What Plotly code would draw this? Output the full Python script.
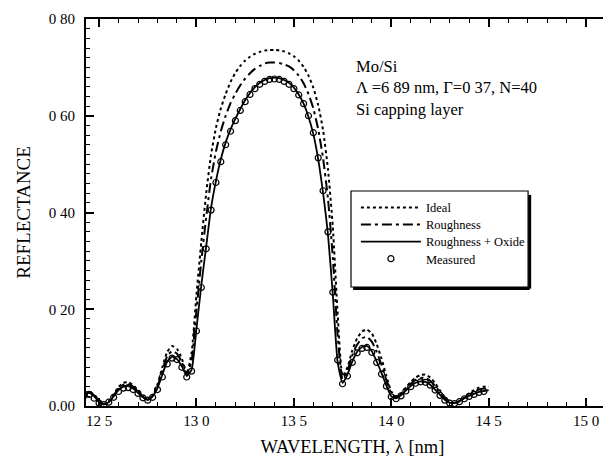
import plotly.graph_objects as go

wavelength_nm = [
    12.400, 12.425, 12.450, 12.475, 12.500, 12.525, 12.550, 12.575, 12.600, 12.625,
    12.650, 12.675, 12.700, 12.725, 12.750, 12.775, 12.800, 12.825, 12.850, 12.875,
    12.900, 12.925, 12.950, 12.975, 13.000, 13.025, 13.050, 13.075, 13.100, 13.125,
    13.150, 13.175, 13.200, 13.225, 13.250, 13.275, 13.300, 13.325, 13.350, 13.375,
    13.400, 13.425, 13.450, 13.475, 13.500, 13.525, 13.550, 13.575, 13.600, 13.625,
    13.650, 13.675, 13.700, 13.725, 13.750, 13.775, 13.800, 13.825, 13.850, 13.875,
    13.900, 13.925, 13.950, 13.975, 14.000, 14.025, 14.050, 14.075, 14.100, 14.125,
    14.150, 14.175, 14.200, 14.225, 14.250, 14.275, 14.300, 14.325, 14.350, 14.375,
    14.400, 14.425, 14.450, 14.475, 14.500,
]

ideal = [
    0.020, 0.026, 0.030, 0.023, 0.010, 0.004, 0.010, 0.024, 0.039, 0.048,
    0.049, 0.043, 0.032, 0.020, 0.014, 0.022, 0.045, 0.080, 0.112, 0.124,
    0.118, 0.098, 0.066, 0.110, 0.230, 0.340, 0.440, 0.520, 0.575, 0.615,
    0.645, 0.670, 0.689, 0.703, 0.714, 0.722, 0.728, 0.732, 0.735, 0.736,
    0.736, 0.735, 0.733, 0.729, 0.723, 0.714, 0.701, 0.683, 0.658, 0.622,
    0.570, 0.490, 0.370, 0.190, 0.062, 0.080, 0.115, 0.140, 0.154, 0.158,
    0.150, 0.128, 0.098, 0.062, 0.030, 0.020, 0.026, 0.038, 0.050, 0.059,
    0.064, 0.065, 0.059, 0.047, 0.032, 0.018, 0.009, 0.006, 0.010, 0.018,
    0.026, 0.033, 0.038, 0.040, 0.040,
]

roughness = [
    0.020, 0.025, 0.029, 0.022, 0.009, 0.004, 0.009, 0.022, 0.036, 0.044,
    0.045, 0.040, 0.030, 0.019, 0.013, 0.021, 0.041, 0.073, 0.103, 0.114,
    0.108, 0.091, 0.064, 0.094, 0.198, 0.300, 0.390, 0.470, 0.526, 0.568,
    0.600, 0.626, 0.646, 0.663, 0.677, 0.688, 0.697, 0.703, 0.708, 0.710,
    0.710, 0.709, 0.706, 0.702, 0.694, 0.683, 0.667, 0.645, 0.615, 0.572,
    0.512, 0.429, 0.307, 0.145, 0.056, 0.073, 0.105, 0.127, 0.140, 0.143,
    0.133, 0.112, 0.085, 0.053, 0.026, 0.018, 0.024, 0.035, 0.046, 0.054,
    0.058, 0.058, 0.052, 0.041, 0.028, 0.016, 0.008, 0.006, 0.010, 0.017,
    0.024, 0.029, 0.034, 0.036, 0.036,
]

roughness_oxide = [
    0.020, 0.024, 0.027, 0.020, 0.008, 0.003, 0.008, 0.020, 0.033, 0.040,
    0.041, 0.036, 0.027, 0.018, 0.013, 0.020, 0.037, 0.065, 0.092, 0.102,
    0.097, 0.082, 0.062, 0.075, 0.160, 0.250, 0.330, 0.410, 0.465, 0.510,
    0.545, 0.572, 0.594, 0.614, 0.632, 0.647, 0.659, 0.668, 0.674, 0.678,
    0.679, 0.678, 0.674, 0.668, 0.658, 0.644, 0.625, 0.598, 0.562, 0.510,
    0.440, 0.355, 0.230, 0.090, 0.048, 0.065, 0.092, 0.112, 0.122, 0.124,
    0.113, 0.092, 0.068, 0.042, 0.020, 0.016, 0.022, 0.032, 0.041, 0.048,
    0.051, 0.050, 0.044, 0.034, 0.023, 0.013, 0.007, 0.006, 0.010, 0.016,
    0.021, 0.025, 0.029, 0.031, 0.033,
]

measured_wl = wavelength_nm[:-1]
measured = [
    0.016, 0.022, 0.024, 0.016, 0.006, 0.003, 0.008, 0.018, 0.030, 0.037,
    0.038, 0.034, 0.026, 0.017, 0.012, 0.018, 0.034, 0.060, 0.087, 0.099,
    0.096, 0.080, 0.060, 0.072, 0.155, 0.245, 0.325, 0.405, 0.462, 0.505,
    0.540, 0.568, 0.590, 0.611, 0.629, 0.644, 0.656, 0.665, 0.671, 0.675,
    0.676, 0.675, 0.671, 0.665, 0.656, 0.643, 0.625, 0.600, 0.565, 0.513,
    0.445, 0.360, 0.235, 0.095, 0.046, 0.062, 0.090, 0.110, 0.119, 0.121,
    0.111, 0.090, 0.066, 0.041, 0.019, 0.015, 0.021, 0.031, 0.040, 0.047,
    0.050, 0.049, 0.043, 0.033, 0.022, 0.012, 0.006, 0.005, 0.009, 0.015,
    0.020, 0.024, 0.028, 0.030,
]

x_tickvals = [12.5, 13.0, 13.5, 14.0, 14.5, 15.0]
x_ticktext = ["12 5", "13 0", "13 5", "14 0", "14 5", "15 0"]
y_tickvals = [0.0, 0.2, 0.4, 0.6, 0.8]
y_ticktext = ["0.00", "0 20", "0 40", "0 60", "0 80"]

FONT = "Liberation Serif"

fig = go.Figure()
fig.add_trace(go.Scatter(
    x=wavelength_nm, y=ideal, mode="lines", name="Ideal", legend="legend",
    line=dict(color="black", width=2, dash="dot", shape="spline", smoothing=0.5)))
fig.add_trace(go.Scatter(
    x=wavelength_nm, y=roughness, mode="lines", name="Roughness", legend="legend2",
    line=dict(color="black", width=2, dash="10px,4px,3px,4px", shape="spline", smoothing=0.5)))
fig.add_trace(go.Scatter(
    x=wavelength_nm, y=roughness_oxide, mode="lines", name="Roughness + Oxide", legend="legend3",
    line=dict(color="black", width=1.8, shape="spline", smoothing=0.5)))
fig.add_trace(go.Scatter(
    x=measured_wl, y=measured, mode="markers", name="Measured", legend="legend4",
    marker=dict(symbol="circle-open", size=6, color="black", line=dict(width=1.2, color="black"))))

# legend frame (paper coordinates)
lx0, lx1, ly0, ly1 = 0.4972, 0.8294, 0.3075, 0.5555


def leg(y):
    return dict(
        x=0.5064, y=y, xanchor="left", yanchor="top",
        bgcolor="rgba(0,0,0,0)", borderwidth=0,
        font=dict(family=FONT, size=12.5, color="black"),
        itemwidth=60,
    )


fig.update_layout(
    width=611, height=460,
    margin=dict(l=78, r=0, t=11, b=62),
    paper_bgcolor="white", plot_bgcolor="white",
    font=dict(family=FONT, size=15, color="black"),
    showlegend=True,
    legend=leg(0.5504),
    legend2=leg(0.5065),
    legend3=leg(0.4626),
    legend4=leg(0.4186),
    shapes=[
        dict(type="rect", xref="paper", yref="paper", x0=lx0, x1=lx1, y0=ly0, y1=ly1,
             line=dict(color="black", width=1.2), fillcolor="white", layer="above"),
        dict(type="line", xref="paper", yref="paper", x0=lx0 + 0.004, x1=lx1 + 0.003,
             y0=ly0 - 0.004, y1=ly0 - 0.004, line=dict(color="black", width=3)),
        dict(type="line", xref="paper", yref="paper", x0=lx1 + 0.003, x1=lx1 + 0.003,
             y0=ly0 - 0.004, y1=ly1 - 0.01, line=dict(color="black", width=3)),
    ],
    annotations=[
        dict(x=0.503, y=0.876, xref="paper", yref="paper", xanchor="left", yanchor="middle",
             text="Mo/Si", showarrow=False, font=dict(family=FONT, size=16.5)),
        dict(x=0.503, y=0.822, xref="paper", yref="paper", xanchor="left", yanchor="middle",
             text="Λ =6 89 nm, Γ=0 37, N=40", showarrow=False, font=dict(family=FONT, size=16.5)),
        dict(x=0.503, y=0.767, xref="paper", yref="paper", xanchor="left", yanchor="middle",
             text="Si capping layer", showarrow=False, font=dict(family=FONT, size=16.5)),
    ],
)

fig.update_xaxes(
    range=[12.433, 15.169],
    tickvals=x_tickvals, ticktext=x_ticktext,
    ticks="inside", ticklen=8, tickwidth=1.5, tickcolor="black",
    minor=dict(dtick=0.1, ticks="inside", ticklen=4, tickwidth=1.2, tickcolor="black"),
    showline=True, linewidth=2, linecolor="black", mirror="ticks",
    showgrid=False, zeroline=False,
    tickfont=dict(family=FONT, size=15),
    title=dict(text="WAVELENGTH, λ [nm]", font=dict(family=FONT, size=18.5), standoff=12),
)
fig.update_yaxes(
    range=[0, 0.8],
    tickvals=y_tickvals, ticktext=y_ticktext,
    ticks="inside", ticklen=8, tickwidth=1.5, tickcolor="black",
    minor=dict(dtick=0.02, ticks="inside", ticklen=4, tickwidth=1.2, tickcolor="black"),
    showline=True, linewidth=2, linecolor="black", mirror=False,
    showgrid=False, zeroline=False,
    tickfont=dict(family=FONT, size=15),
    ticklabelstandoff=6,
    title=dict(text="REFLECTANCE", font=dict(family=FONT, size=19), standoff=13),
)

fig.write_html("out.html")
